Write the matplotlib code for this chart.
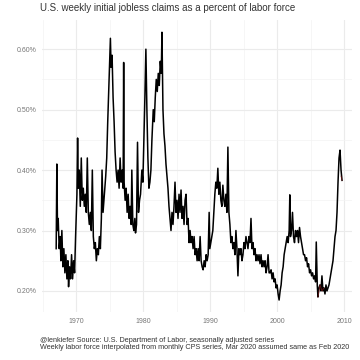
import matplotlib
matplotlib.use("Agg")
import matplotlib.pyplot as plt

# weekly initial claims as % of labor force
years = [1967.0, 1967.1, 1967.2, 1967.3, 1967.45, 1967.6, 1967.7, 1967.85, 1968.0, 1968.15,
         1968.3, 1968.45, 1968.6, 1968.75, 1968.85, 1969.0, 1969.15, 1969.3, 1969.45, 1969.6,
         1969.75, 1969.9, 1970.1, 1970.2, 1970.3, 1970.45, 1970.6, 1970.75, 1970.9, 1971.05,
         1971.2, 1971.35, 1971.5, 1971.65, 1971.8, 1971.95, 1972.1, 1972.25, 1972.4, 1972.55,
         1972.7, 1972.85, 1973.0, 1973.15, 1973.3, 1973.45, 1973.6, 1973.75, 1973.85, 1974.0,
         1974.2, 1974.4, 1974.55, 1974.7, 1974.85, 1975.0, 1975.1, 1975.2, 1975.35, 1975.5,
         1975.65, 1975.8, 1975.95, 1976.1, 1976.25, 1976.4, 1976.55, 1976.7, 1976.85, 1977.0,
         1977.08, 1977.15, 1977.3, 1977.45, 1977.6, 1977.75, 1977.9, 1978.05, 1978.2, 1978.3,
         1978.45, 1978.6, 1978.75, 1978.85, 1979.0, 1979.15, 1979.3, 1979.45, 1979.6, 1979.8,
         1979.95, 1980.1, 1980.25, 1980.4, 1980.55, 1980.7, 1980.85, 1981.0, 1981.15, 1981.3,
         1981.5, 1981.65, 1981.8, 1981.95, 1982.1, 1982.25, 1982.4, 1982.55, 1982.7, 1982.8,
         1982.95, 1983.1, 1983.25, 1983.4, 1983.55, 1983.7, 1983.85, 1984.0, 1984.15, 1984.3,
         1984.45, 1984.6, 1984.75, 1984.9, 1985.05, 1985.2, 1985.35, 1985.5, 1985.65, 1985.8,
         1985.95, 1986.1, 1986.25, 1986.4, 1986.55, 1986.7, 1986.85, 1987.0, 1987.15, 1987.3,
         1987.45, 1987.6, 1987.75, 1987.9, 1988.05, 1988.2, 1988.35, 1988.5, 1988.65, 1988.8,
         1988.95, 1989.1, 1989.25, 1989.4, 1989.55, 1989.7, 1989.85, 1989.95, 1990.1, 1990.25,
         1990.4, 1990.55, 1990.7, 1990.85, 1991.0, 1991.15, 1991.3, 1991.45, 1991.6, 1991.75,
         1991.9, 1992.05, 1992.2, 1992.35, 1992.5, 1992.65, 1992.8, 1992.95, 1993.1, 1993.25,
         1993.4, 1993.55, 1993.7, 1993.85, 1994.0, 1994.15, 1994.3, 1994.45, 1994.6, 1994.75,
         1994.9, 1995.05, 1995.2, 1995.35, 1995.5, 1995.65, 1995.8, 1995.95, 1996.1, 1996.25,
         1996.4, 1996.55, 1996.7, 1996.85, 1997.0, 1997.15, 1997.3, 1997.45, 1997.6, 1997.75,
         1997.9, 1998.05, 1998.2, 1998.35, 1998.5, 1998.65, 1998.8, 1998.95, 1999.1, 1999.25,
         1999.4, 1999.55, 1999.7, 1999.85, 2000.0, 2000.15, 2000.3, 2000.45, 2000.6, 2000.75,
         2000.9, 2001.05, 2001.2, 2001.35, 2001.5, 2001.65, 2001.8, 2001.9, 2002.0, 2002.15,
         2002.3, 2002.45, 2002.6, 2002.75, 2002.9, 2003.05, 2003.2, 2003.35, 2003.5, 2003.65,
         2003.8, 2003.95, 2004.1, 2004.25, 2004.4, 2004.55, 2004.7, 2004.85, 2005.0, 2005.15,
         2005.3, 2005.45, 2005.6, 2005.75, 2005.85, 2006.0, 2006.1, 2006.25, 2006.4, 2006.55,
         2006.7, 2006.85, 2007.0, 2007.15, 2007.3, 2007.45, 2007.6, 2007.75, 2007.9, 2008.05,
         2008.2, 2008.35, 2008.5, 2008.65, 2008.8, 2008.95, 2009.1, 2009.25, 2009.4, 2009.55,
         2009.7]
claims_pct = [0.27, 0.41, 0.30, 0.32, 0.27, 0.29, 0.25, 0.30, 0.24, 0.27,
              0.23, 0.26, 0.22, 0.25, 0.207, 0.24, 0.22, 0.26, 0.22, 0.25,
              0.23, 0.29, 0.36, 0.453, 0.37, 0.40, 0.34, 0.42, 0.35, 0.37,
              0.34, 0.36, 0.33, 0.42, 0.33, 0.31, 0.33, 0.30, 0.40, 0.29,
              0.27, 0.28, 0.25, 0.27, 0.26, 0.29, 0.27, 0.32, 0.40, 0.33,
              0.36, 0.39, 0.42, 0.48, 0.53, 0.58, 0.618, 0.57, 0.59, 0.52,
              0.48, 0.43, 0.40, 0.38, 0.40, 0.37, 0.42, 0.38, 0.40, 0.37,
              0.578, 0.38, 0.35, 0.37, 0.33, 0.36, 0.32, 0.34, 0.31, 0.40,
              0.31, 0.30, 0.32, 0.296, 0.31, 0.446, 0.33, 0.35, 0.36, 0.40,
              0.38, 0.45, 0.52, 0.60, 0.50, 0.42, 0.37, 0.38, 0.40, 0.45,
              0.50, 0.48, 0.52, 0.55, 0.53, 0.56, 0.54, 0.58, 0.56, 0.628,
              0.50, 0.46, 0.44, 0.41, 0.39, 0.37, 0.34, 0.32, 0.30, 0.33,
              0.31, 0.34, 0.38, 0.33, 0.35, 0.32, 0.36, 0.33, 0.367, 0.32,
              0.34, 0.31, 0.35, 0.36, 0.31, 0.32, 0.28, 0.30, 0.28, 0.29,
              0.27, 0.29, 0.26, 0.27, 0.25, 0.27, 0.25, 0.29, 0.25, 0.24,
              0.235, 0.25, 0.24, 0.26, 0.25, 0.26, 0.33, 0.27, 0.28, 0.29,
              0.30, 0.33, 0.36, 0.38, 0.37, 0.403, 0.36, 0.38, 0.35, 0.34,
              0.375, 0.35, 0.34, 0.36, 0.33, 0.438, 0.33, 0.31, 0.28, 0.29,
              0.27, 0.28, 0.26, 0.30, 0.27, 0.225, 0.27, 0.26, 0.27, 0.25,
              0.26, 0.28, 0.27, 0.29, 0.28, 0.27, 0.29, 0.28, 0.32, 0.27,
              0.28, 0.26, 0.27, 0.25, 0.26, 0.25, 0.26, 0.245, 0.26, 0.24,
              0.25, 0.24, 0.25, 0.23, 0.24, 0.26, 0.23, 0.23, 0.235, 0.22,
              0.23, 0.215, 0.22, 0.205, 0.21, 0.195, 0.185, 0.20, 0.21, 0.23,
              0.24, 0.26, 0.27, 0.28, 0.29, 0.28, 0.30, 0.359, 0.29, 0.30,
              0.33, 0.29, 0.28, 0.30, 0.29, 0.30, 0.28, 0.305, 0.29, 0.28,
              0.27, 0.26, 0.26, 0.25, 0.255, 0.24, 0.245, 0.23, 0.235, 0.225,
              0.23, 0.22, 0.225, 0.215, 0.281, 0.21, 0.19, 0.205, 0.21, 0.20,
              0.225, 0.20, 0.205, 0.195, 0.21, 0.20, 0.205, 0.21, 0.22, 0.23,
              0.24, 0.25, 0.27, 0.29, 0.30, 0.33, 0.38, 0.42, 0.433, 0.40,
              0.383]

# short highlighted stretch (dark red in the original)
red_years = [2006.1, 2006.4, 2006.7, 2007.0, 2009.55, 2009.7]
red_pct = [0.19, 0.21, 0.20, 0.205, 0.39, 0.383]

xticks = [1970, 1980, 1990, 2000, 2010]
yticks = [0.20, 0.30, 0.40, 0.50, 0.60]

plt.rcParams['font.family'] = ['Liberation Sans', 'DejaVu Sans']

fig = plt.figure(figsize=(3.6, 3.6), dpi=100)
ax = fig.add_axes([0.117, 0.133, 0.861, 0.811])

ax.plot(years, claims_pct, color='black', linewidth=1.1)
ax.plot(red_years[:4], red_pct[:4], color='#8b1a1a', linewidth=0.6, alpha=0.7)
ax.plot(red_years[4:], red_pct[4:], color='#8b1a1a', linewidth=0.6, alpha=0.7)

ax.set_xlim(1964.9, 2011.2)
ax.set_ylim(0.165, 0.648)
ax.set_xticks(xticks)
ax.set_xticklabels([str(y) for y in xticks])
ax.set_xticks([1965, 1975, 1985, 1995, 2005], minor=True)
ax.set_yticks(yticks)
ax.set_yticklabels(['%.2f%%' % v for v in yticks])
ax.set_yticks([0.25, 0.35, 0.45, 0.55], minor=True)

ax.grid(which='major', color='#ebebeb', linewidth=0.8)
ax.grid(which='minor', color='#f3f3f3', linewidth=0.5)
ax.set_axisbelow(True)
for s in ax.spines.values():
    s.set_visible(False)
ax.tick_params(which='both', length=0, labelsize=5, labelcolor='#777777', pad=4)

fig.text(0.112, 0.963, "U.S. weekly initial jobless claims as a percent of labor force",
         fontsize=7, color='#333333', va='bottom')
fig.text(0.112, 0.025,
         "@lenkiefer Source: U.S. Department of Labor, seasonally adjusted series\n"
         "Weekly labor force interpolated from monthly CPS series, Mar 2020 assumed same as Feb 2020",
         fontsize=5.2, color='#333333', va='bottom', linespacing=0.95)

fig.savefig("out.png", dpi=100, facecolor='white')
